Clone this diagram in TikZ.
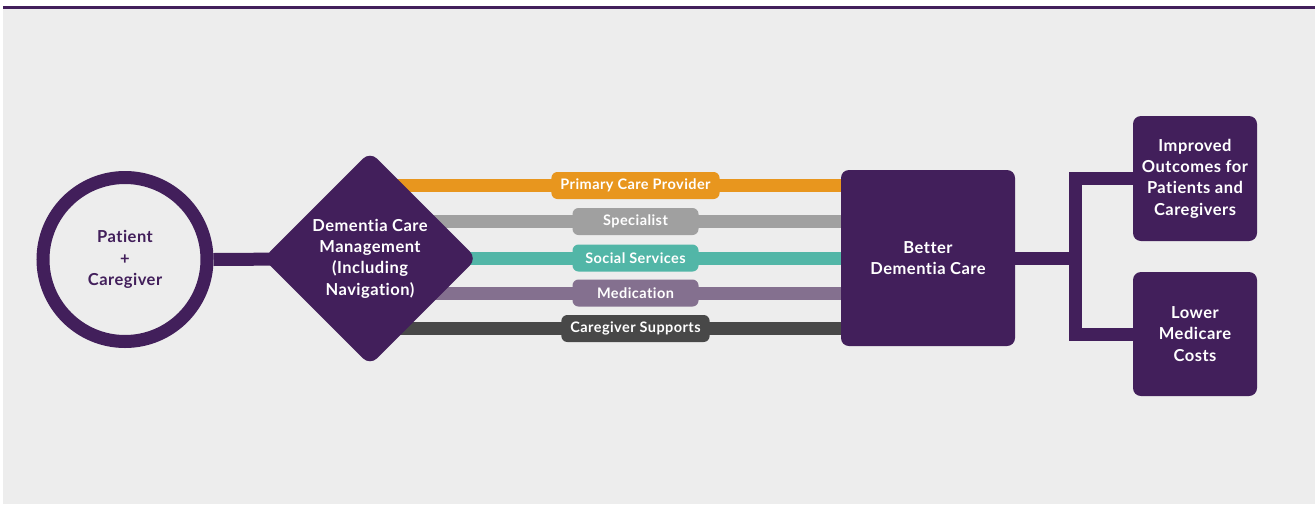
\documentclass[tikz,border=0pt]{standalone}
\usepackage{fontspec}
\setmainfont{Lato}[Ligatures=NoCommon, LetterSpace=3]
\usetikzlibrary{shapes.geometric}

\definecolor{plum}{HTML}{421F5B}
\definecolor{paper}{HTML}{EDEDED}
\definecolor{cOrange}{HTML}{E8961E}
\definecolor{cGrey}{HTML}{A0A0A0}
\definecolor{cTeal}{HTML}{52B6A7}
\definecolor{cMauve}{HTML}{84708F}
\definecolor{cDark}{HTML}{484848}

\pgfdeclarelayer{paperlayer}
\pgfdeclarelayer{links}
\pgfsetlayers{paperlayer,links,main}

\tikzset{
  box/.style={rectangle, rounded corners=8pt, fill=plum, text=white, align=center,
    font=\bfseries\fontsize{16.5}{21.3}\selectfont, inner sep=0pt},
  pill/.style={rectangle, rounded corners=6pt, text=white, inner xsep=9pt, inner ysep=0pt,
    minimum width=126pt, minimum height=27pt, font=\bfseries\fontsize{14.5}{16}\selectfont},
  link/.style={draw=plum, line width=13pt},
  bar/.style={line width=13pt}
}

\begin{document}
\begin{tikzpicture}[x=1pt, y=-1pt]
		\useasboundingbox (0,0) rectangle (1315,504);
		\begin{pgfonlayer}{paperlayer}
			\fill[paper] (3,8.5) rectangle (1315,504);
			\draw[plum, line width=2.6pt] (3,7.2) -- (1315,7.2);
		\end{pgfonlayer}

		% patient, hub and outcome
		\node[circle, draw=plum, line width=13pt, minimum size=164pt, inner sep=0pt, align=center,
			text=plum, font=\bfseries\fontsize{16.5}{21.3}\selectfont] (pc) at (125,259.5) {Patient\\+\\Caregiver};
		\node[diamond, fill=plum, minimum width=214pt, minimum height=214pt, inner sep=0pt,
			rounded corners=10pt] (dcm) at (370,258.5) {};
		\node[box] (dcmtext) at (dcm) {Dementia Care\\Management\\(Including\\Navigation)};
		\node[box, minimum width=174pt, minimum height=176pt] (better) at (928,258) {Better\\Dementia Care};
		\node[box, minimum width=124pt, minimum height=125pt] (improved) at (1195,178.5)
			{Improved\\Outcomes for\\Patients and\\Caregivers};
		\node[box, minimum width=124pt, minimum height=124pt] (lower) at (1195,334) {Lower\\Medicare\\Costs};
		\coordinate (fork) at (1075,258);

		% care paths
		\foreach \name/\col/\txt/\y in {prim/cOrange/Primary Care Provider/185.5, spec/cGrey/Specialist/221.5,
			soc/cTeal/Social Services/258, med/cMauve/Medication/293, sup/cDark/Caregiver Supports/328.5} {
			\node[pill, fill=\col] (\name) at (635.5,\y) {\txt};
			\begin{pgfonlayer}{links}
				\draw[bar, draw=\col] (dcm.center |- \name) -- (better.center |- \name);
			\end{pgfonlayer}
		}

		\begin{pgfonlayer}{links}
			\draw[link] (pc.east) -- (dcm.center);
			\draw[link] (better) -- (fork);
			\draw[link] (improved) -| (fork) |- (lower);
		\end{pgfonlayer}
	\end{tikzpicture}
\end{document}
